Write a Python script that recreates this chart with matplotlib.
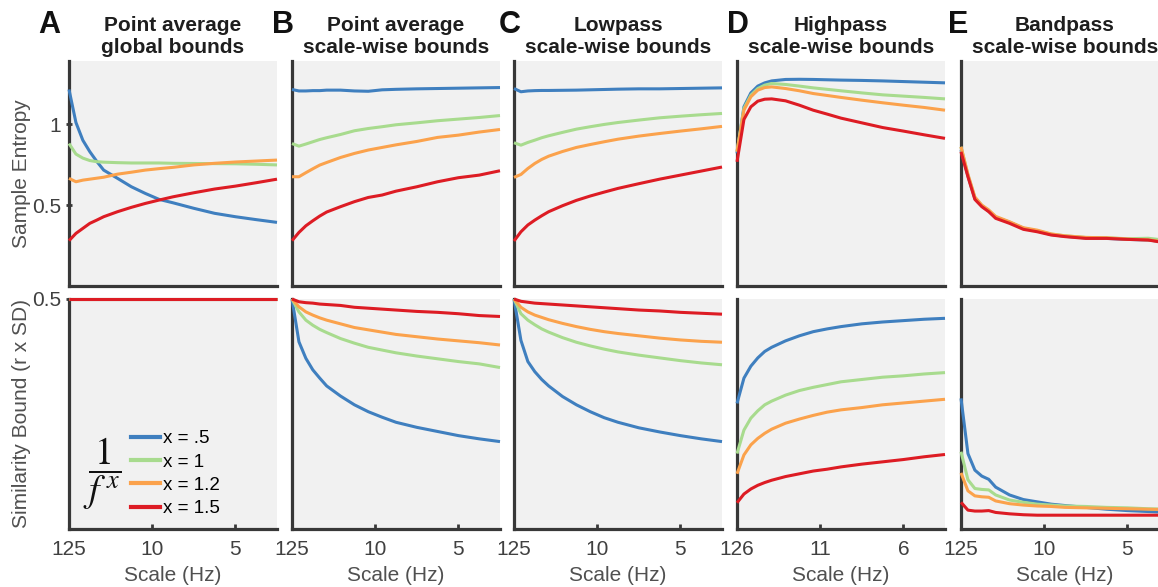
import matplotlib
matplotlib.use("Agg")
import matplotlib.pyplot as plt
from matplotlib.lines import Line2D

plt.rcParams['font.family'] = ['Liberation Sans', 'DejaVu Sans']
plt.rcParams['mathtext.fontset'] = 'stix'

# ---------------- data ----------------
scales = [1, 2, 3, 4, 5, 6, 8, 10, 12, 14, 16, 19, 22, 25, 28, 31]
series_labels = ['x = .5', 'x = 1', 'x = 1.2', 'x = 1.5']
colors = ['#3F7FBF', '#A8DB8E', '#FBA24C', '#DD1C24']

titles = ['Point average\nglobal bounds', 'Point average\nscale-wise bounds',
          'Lowpass\nscale-wise bounds', 'Highpass\nscale-wise bounds',
          'Bandpass\nscale-wise bounds']
panel_letters = ['A', 'B', 'C', 'D', 'E']
tick_pos = [1, 13, 25]
tick_labels_std = ['125', '10', '5']
tick_labels_hp = ['126', '11', '6']

# Sample entropy (top row): [x=.5, x=1, x=1.2, x=1.5]
se_A = [
    [1.214, 1.01, 0.90, 0.83, 0.77, 0.716, 0.665, 0.613, 0.572, 0.535, 0.514, 0.48, 0.449, 0.428, 0.41, 0.393],
    [0.88, 0.815, 0.79, 0.775, 0.768, 0.765, 0.762, 0.76, 0.76, 0.76, 0.758, 0.757, 0.756, 0.755, 0.752, 0.748],
    [0.665, 0.644, 0.654, 0.66, 0.666, 0.672, 0.691, 0.703, 0.716, 0.725, 0.733, 0.748, 0.758, 0.766, 0.772, 0.778],
    [0.28, 0.325, 0.356, 0.387, 0.407, 0.428, 0.459, 0.486, 0.51, 0.531, 0.551, 0.576, 0.599, 0.617, 0.638, 0.66],
]
se_B = [
    [1.214, 1.205, 1.205, 1.207, 1.207, 1.21, 1.21, 1.205, 1.203, 1.212, 1.215, 1.218, 1.22, 1.222, 1.224, 1.226],
    [0.88, 0.864, 0.877, 0.891, 0.905, 0.916, 0.936, 0.959, 0.973, 0.984, 0.996, 1.008, 1.021, 1.031, 1.041, 1.053],
    [0.675, 0.675, 0.70, 0.724, 0.747, 0.763, 0.794, 0.819, 0.84, 0.856, 0.872, 0.893, 0.918, 0.932, 0.951, 0.967],
    [0.28, 0.331, 0.372, 0.403, 0.432, 0.457, 0.49, 0.521, 0.547, 0.562, 0.586, 0.613, 0.644, 0.669, 0.685, 0.712],
]
se_C = [
    [1.22, 1.20, 1.205, 1.207, 1.208, 1.208, 1.209, 1.21, 1.212, 1.214, 1.216, 1.218, 1.218, 1.22, 1.222, 1.224],
    [0.885, 0.87, 0.887, 0.901, 0.916, 0.928, 0.949, 0.969, 0.984, 0.998, 1.01, 1.025, 1.039, 1.049, 1.058, 1.066],
    [0.671, 0.689, 0.726, 0.757, 0.782, 0.802, 0.831, 0.856, 0.874, 0.891, 0.907, 0.926, 0.942, 0.957, 0.971, 0.986],
    [0.278, 0.335, 0.377, 0.407, 0.434, 0.459, 0.496, 0.529, 0.556, 0.58, 0.603, 0.632, 0.66, 0.685, 0.71, 0.735],
]
se_D = [
    [0.819, 1.107, 1.193, 1.235, 1.255, 1.267, 1.276, 1.277, 1.276, 1.274, 1.272, 1.27, 1.267, 1.263, 1.259, 1.255],
    [0.83, 1.097, 1.179, 1.22, 1.241, 1.251, 1.245, 1.235, 1.224, 1.215, 1.206, 1.193, 1.181, 1.173, 1.165, 1.156],
    [0.83, 1.086, 1.169, 1.21, 1.226, 1.23, 1.22, 1.206, 1.189, 1.177, 1.165, 1.148, 1.132, 1.117, 1.103, 1.086],
    [0.767, 1.029, 1.107, 1.142, 1.154, 1.156, 1.144, 1.117, 1.086, 1.062, 1.037, 1.008, 0.979, 0.957, 0.934, 0.912],
]
se_E = [
    [0.84, 0.68, 0.54, 0.495, 0.462, 0.425, 0.394, 0.357, 0.34, 0.318, 0.307, 0.297, 0.294, 0.288, 0.284, 0.27],
    [0.86, 0.685, 0.545, 0.497, 0.465, 0.425, 0.393, 0.355, 0.34, 0.32, 0.31, 0.30, 0.298, 0.292, 0.295, 0.28],
    [0.86, 0.69, 0.55, 0.50, 0.47, 0.43, 0.397, 0.36, 0.345, 0.322, 0.31, 0.30, 0.298, 0.29, 0.285, 0.27],
    [0.829, 0.675, 0.535, 0.49, 0.459, 0.418, 0.387, 0.35, 0.335, 0.315, 0.305, 0.294, 0.294, 0.288, 0.284, 0.263],
]

# Similarity bound (bottom row): [x=.5, x=1, x=1.2, x=1.5]
sb_A = [
    [0.5, 0.5, 0.5, 0.5, 0.5, 0.5, 0.5, 0.5, 0.5, 0.5, 0.5, 0.5, 0.5, 0.5, 0.5, 0.5],
    [0.5, 0.5, 0.5, 0.5, 0.5, 0.5, 0.5, 0.5, 0.5, 0.5, 0.5, 0.5, 0.5, 0.5, 0.5, 0.5],
    [0.5, 0.5, 0.5, 0.5, 0.5, 0.5, 0.5, 0.5, 0.5, 0.5, 0.5, 0.5, 0.5, 0.5, 0.5, 0.5],
    [0.5, 0.5, 0.5, 0.5, 0.5, 0.5, 0.5, 0.5, 0.5, 0.5, 0.5, 0.5, 0.5, 0.5, 0.5, 0.5],
]
sb_B = [
    [0.5, 0.407, 0.371, 0.346, 0.328, 0.311, 0.289, 0.27, 0.255, 0.243, 0.232, 0.221, 0.212, 0.203, 0.196, 0.19],
    [0.5, 0.472, 0.454, 0.443, 0.434, 0.427, 0.414, 0.404, 0.395, 0.389, 0.383, 0.376, 0.37, 0.364, 0.359, 0.351],
    [0.5, 0.483, 0.472, 0.465, 0.459, 0.454, 0.446, 0.438, 0.433, 0.428, 0.423, 0.418, 0.413, 0.409, 0.405, 0.40],
    [0.5, 0.494, 0.492, 0.491, 0.489, 0.488, 0.486, 0.482, 0.48, 0.478, 0.476, 0.473, 0.471, 0.468, 0.464, 0.462],
]
sb_C = [
    [0.5, 0.41, 0.364, 0.342, 0.325, 0.311, 0.288, 0.27, 0.255, 0.242, 0.232, 0.22, 0.211, 0.203, 0.196, 0.19],
    [0.5, 0.468, 0.454, 0.444, 0.435, 0.428, 0.416, 0.406, 0.398, 0.391, 0.385, 0.378, 0.372, 0.366, 0.361, 0.357],
    [0.5, 0.482, 0.472, 0.465, 0.46, 0.455, 0.447, 0.44, 0.434, 0.429, 0.425, 0.42, 0.415, 0.411, 0.408, 0.406],
    [0.5, 0.495, 0.493, 0.491, 0.49, 0.489, 0.487, 0.485, 0.483, 0.481, 0.479, 0.476, 0.474, 0.471, 0.469, 0.467],
]
sb_D = [
    [0.273, 0.328, 0.354, 0.372, 0.386, 0.395, 0.409, 0.42, 0.429, 0.435, 0.44, 0.446, 0.45, 0.453, 0.456, 0.458],
    [0.164, 0.215, 0.241, 0.257, 0.27, 0.278, 0.291, 0.301, 0.308, 0.314, 0.32, 0.325, 0.33, 0.333, 0.337, 0.34],
    [0.12, 0.161, 0.183, 0.197, 0.208, 0.217, 0.23, 0.239, 0.247, 0.254, 0.259, 0.264, 0.27, 0.274, 0.278, 0.282],
    [0.057, 0.076, 0.087, 0.095, 0.101, 0.106, 0.114, 0.12, 0.126, 0.13, 0.135, 0.141, 0.146, 0.151, 0.157, 0.162],
]
sb_E = [
    [0.284, 0.164, 0.128, 0.115, 0.108, 0.091, 0.074, 0.064, 0.059, 0.054, 0.051, 0.047, 0.043, 0.04, 0.038, 0.036],
    [0.168, 0.107, 0.088, 0.086, 0.085, 0.074, 0.063, 0.058, 0.054, 0.052, 0.05, 0.049, 0.047, 0.046, 0.044, 0.043],
    [0.122, 0.083, 0.072, 0.07, 0.069, 0.061, 0.055, 0.052, 0.05, 0.049, 0.047, 0.046, 0.045, 0.044, 0.043, 0.042],
    [0.058, 0.041, 0.039, 0.039, 0.04, 0.036, 0.033, 0.031, 0.030, 0.030, 0.030, 0.030, 0.030, 0.030, 0.030, 0.030],
]
top_data = [se_A, se_B, se_C, se_D, se_E]
bottom_data = [sb_A, sb_B, sb_C, sb_D, sb_E]

# ---------------- layout ----------------
W, H = 1158, 587
fig = plt.figure(figsize=(W / 100, H / 100), dpi=100)

lefts_px = [69, 292, 514, 737, 961]
letter_px = [38, 272, 499, 727, 948]
width_px = 208
top_row = (61, 286)     # top, bottom in px
bot_row = (299, 529)

spine_col = '#383838'
bg_col = '#F1F1F1'
tick_col = '#404040'
label_col = '#505050'


def make_ax(left_px, rows):
    t, b = rows
    return fig.add_axes([left_px / W, (H - b) / H, width_px / W, (b - t) / H])


def style(ax):
    ax.set_facecolor(bg_col)
    for s in ['top', 'right']:
        ax.spines[s].set_visible(False)
    for s in ['left', 'bottom']:
        ax.spines[s].set_color(spine_col)
        ax.spines[s].set_linewidth(2.3)
    ax.tick_params(colors=spine_col, labelcolor=tick_col, labelsize=15,
                   direction='in', length=3.5, width=2)
    ax.set_xlim(1, 31)


for i in range(5):
    # top row
    ax = make_ax(lefts_px[i], top_row)
    style(ax)
    for k in range(4):
        ax.plot(scales, top_data[i][k], color=colors[k], lw=2.2,
                solid_capstyle='butt', clip_on=False, zorder=3)
    ax.set_ylim(0, 1.39)
    ax.set_xticks([])
    if i == 0:
        ax.set_yticks([0.5, 1])
        ax.set_yticklabels(['0.5', '1'])
        ax.tick_params(axis='y', direction='inout', length=5, pad=3)
        ax.set_ylabel('Sample Entropy', fontsize=15, color=label_col)
        ax.yaxis.set_label_coords(-0.185, 0.5)
    else:
        ax.set_yticks([])
    ax.set_title(titles[i], fontsize=15, fontweight='bold', color='#1E1E1E',
                 pad=6, linespacing=1.15)
    fig.text(letter_px[i] / W, 1 - 33 / H, panel_letters[i],
             fontsize=22, fontweight='bold', color='#111111', ha='left', va='baseline')

    # bottom row
    ax2 = make_ax(lefts_px[i], bot_row)
    style(ax2)
    for k in range(4):
        ax2.plot(scales, bottom_data[i][k], color=colors[k], lw=2.2,
                 solid_capstyle='butt', clip_on=False, zorder=3)
    ax2.set_ylim(0, 0.5)
    ax2.set_xticks(tick_pos)
    ax2.set_xticklabels(tick_labels_hp if i == 3 else tick_labels_std)
    ax2.tick_params(axis='x', pad=8)
    ax2.set_xlabel('Scale (Hz)', fontsize=15, color=label_col, labelpad=5)
    if i == 0:
        ax2.set_yticks([0.5])
        ax2.set_yticklabels(['0.5'])
        ax2.tick_params(axis='y', direction='inout', length=5, pad=3)
        ax2.set_ylabel('Similarity Bound (r x SD)', fontsize=15, color=label_col)
        ax2.yaxis.set_label_coords(-0.185, 0.5)
        handles = [Line2D([0], [0], color=c, lw=3) for c in colors]
        ax2.legend(handles, series_labels, loc='upper left',
                   bbox_to_anchor=(0.30, 0.43), frameon=False, fontsize=13.5,
                   handlelength=1.5, handletextpad=0.2, labelspacing=0.33,
                   borderpad=0, borderaxespad=0)
        ax2.text(0.158, 0.24, r'$\dfrac{1}{f^{\,x}}$', transform=ax2.transAxes,
                 fontsize=27, ha='center', va='center', color='#111111')
    else:
        ax2.set_yticks([])

fig.savefig('out.png', dpi=100)
